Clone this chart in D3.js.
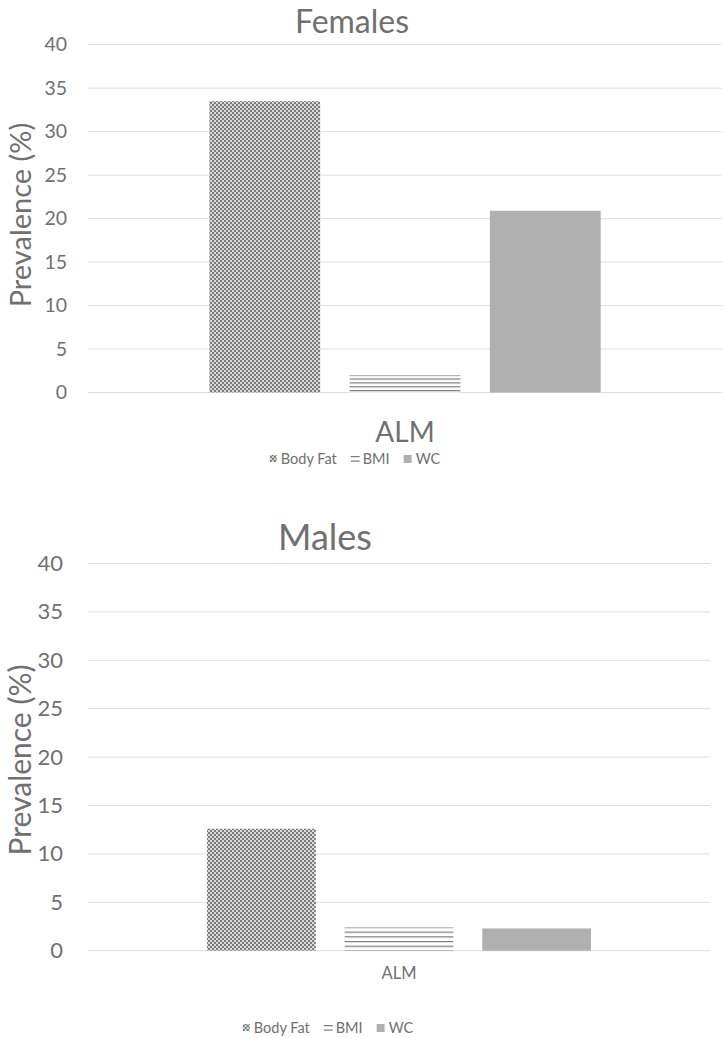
<!DOCTYPE html>
<html><head><meta charset="utf-8">
<script src="https://cdn.jsdelivr.net/npm/d3@7"></script>
<style>html,body{margin:0;padding:0;background:#fff;} svg{display:block;} text{font-family:Lato, "Open Sans", sans-serif; fill:#707070;}</style>
</head><body>
<script>
const categories = ["ALM"];
const seriesNames = ["Body Fat", "BMI", "WC"];
const femaleValues = [33.5, 2.0, 20.9];
const maleValues = [12.6, 2.4, 2.3];
const yTicks = [0, 5, 10, 15, 20, 25, 30, 35, 40];
const titles = ["Females", "Males"];
const yLabel = "Prevalence (%)";

const W = 725, H = 1038;
const svg = d3.select("body").append("svg").attr("width", W).attr("height", H);
svg.append("rect").attr("width", W).attr("height", H).attr("fill", "#fff");
const defs = svg.append("defs");

const checker = defs.append("pattern").attr("id", "checker").attr("patternUnits", "userSpaceOnUse")
  .attr("width", 4).attr("height", 4);
checker.append("rect").attr("width", 4).attr("height", 4).attr("fill", "#dadada");
checker.append("rect").attr("width", 2).attr("height", 2).attr("fill", "#7c7c7c");
checker.append("rect").attr("x", 2).attr("y", 2).attr("width", 2).attr("height", 2).attr("fill", "#7c7c7c");

const charts = [
  {title: titles[0], values: femaleValues, titleX: 352, titleY: 33, titleSize: 32,
   x0: 88, x1: 722, yTop: 44.7, yBot: 392.5, tickSize: 19.5, tickX: 67,
   ylabX: 30.5, ylabY: 215, ylabSize: 29,
   catY: 442, catSize: 28, legY: 464, legCenter: 355, legSize: 14.5, lineStep: 3.9},
  {title: titles[1], values: maleValues, titleX: 325, titleY: 550, titleSize: 36,
   x0: 88, x1: 710, yTop: 563.5, yBot: 950.7, tickSize: 22, tickX: 63,
   ylabX: 30.5, ylabY: 760, ylabSize: 30,
   catY: 979, catSize: 16.5, legY: 1033, legCenter: 328, legSize: 14.5, lineStep: 4.7}
];

charts.forEach((c, ci) => {
  const g = svg.append("g");
  const y = d3.scaleLinear().domain([0, 40]).range([c.yBot, c.yTop]);
  const xc = d3.scaleBand().domain(categories).range([c.x0, c.x1]).paddingInner(0).paddingOuter(0.31);
  const xs = d3.scaleBand().domain(seriesNames).range([0, xc.bandwidth()]).paddingInner(0.21).paddingOuter(0);

  const bmiTop = y(c.values[1]);
  const lp = defs.append("pattern").attr("id", "lines" + ci).attr("patternUnits", "userSpaceOnUse")
    .attr("width", 8).attr("height", c.lineStep).attr("y", bmiTop - 0.6);
  lp.append("rect").attr("width", 8).attr("height", c.lineStep).attr("fill", "#fff");
  lp.append("rect").attr("width", 8).attr("height", 1.2).attr("fill", "#7a7a7a");
  const fills = ["url(#checker)", "url(#lines" + ci + ")", "#b0b0b0"];

  g.selectAll("line.grid").data(yTicks).join("line")
    .attr("x1", c.x0).attr("x2", c.x1)
    .attr("y1", d => y(d)).attr("y2", d => y(d))
    .attr("stroke", "#dedede").attr("stroke-width", 1);
  const axis = d3.axisLeft(y).tickValues(yTicks).tickSize(0).tickPadding(0);
  const ax = g.append("g").attr("transform", `translate(${c.tickX},0)`).call(axis);
  ax.select(".domain").remove();
  ax.selectAll("text").style("font-size", c.tickSize + "px").attr("fill", "#707070")
    .style("font-family", "Lato, sans-serif");

  categories.forEach(cat => {
    g.selectAll("rect.bar" + ci).data(seriesNames.map((s, i) => ({s, v: c.values[i], i}))).join("rect")
      .attr("x", d => xc(cat) + xs(d.s)).attr("width", xs.bandwidth())
      .attr("y", d => y(d.v)).attr("height", d => y(0) - y(d.v))
      .attr("fill", d => fills[d.i]);
    g.append("text").attr("x", xc(cat) + xc.bandwidth() / 2).attr("y", c.catY)
      .attr("text-anchor", "middle").style("font-size", c.catSize + "px").text(cat);
  });

  g.append("text").attr("x", c.titleX).attr("y", c.titleY).attr("text-anchor", "middle")
    .style("font-size", c.titleSize + "px").text(c.title);
  g.append("text").attr("transform", `translate(${c.ylabX},${c.ylabY}) rotate(-90)`)
    .attr("text-anchor", "middle").style("font-size", c.ylabSize + "px").text(yLabel);

  const lg = g.append("g");
  let cx = 0;
  seriesNames.forEach((s, i) => {
    const it = lg.append("g");
    if (i === 0) {
      it.append("rect").attr("x", 0).attr("y", -9).attr("width", 7).attr("height", 7).attr("fill", "url(#checker)");
    } else if (i === 1) {
      it.append("rect").attr("x", 0).attr("y", -8).attr("width", 9).attr("height", 1.2).attr("fill", "#7a7a7a");
      it.append("rect").attr("x", 0).attr("y", -3.5).attr("width", 9).attr("height", 1.2).attr("fill", "#7a7a7a");
    } else {
      it.append("rect").attr("x", 0).attr("y", -9).attr("width", 8).attr("height", 8).attr("fill", "#b0b0b0");
    }
    const t = it.append("text").attr("x", i === 0 ? 11 : 12).attr("y", 0).style("font-size", c.legSize + "px").text(s);
    const w = (i === 0 ? 11 : 12) + t.node().getComputedTextLength();
    it.attr("transform", `translate(${cx},0)`);
    cx += w + 14;
  });
  const total = cx - 14;
  lg.attr("transform", `translate(${c.legCenter - total / 2},${c.legY})`);
});
</script>
</body></html>
